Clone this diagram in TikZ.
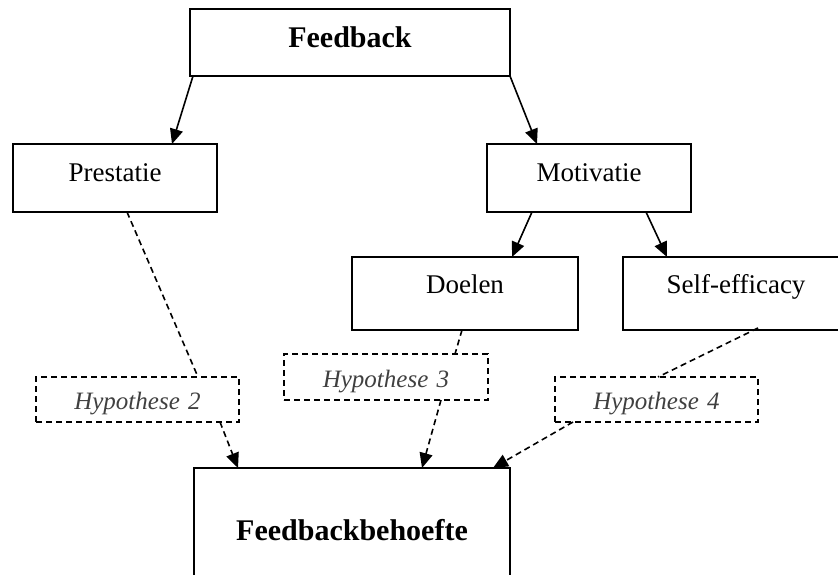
\documentclass[tikz,border=0pt]{standalone}
\usepackage{fontspec}
\setmainfont{Liberation Serif}
\usetikzlibrary{arrows.meta}
\definecolor{hypgray}{HTML}{404040}
\tikzset{
  box/.style={draw, line width=1.8pt, inner sep=0pt, outer sep=0pt, anchor=north west, align=center, font=\fontsize{27}{32}\selectfont},
  bigbox/.style={box, font=\fontsize{30}{36}\selectfont\bfseries},
  hypbox/.style={box, line width=1.6pt, dash pattern=on 6pt off 4pt, text=hypgray, font=\fontsize{25}{30}\selectfont\itshape},
  arr/.style={line width=1.6pt, -{Triangle[length=15pt,width=13pt]}},
  darr/.style={arr, dash pattern=on 6pt off 4pt},
  dline/.style={line width=1.6pt, dash pattern=on 6pt off 4pt}
}
\begin{document}
\begin{tikzpicture}[x=1pt,y=-1pt]
\useasboundingbox (0,0) rectangle (838,575);
\clip (0,0) rectangle (838,575);
\node[bigbox, text width=320pt, text height=39pt, text depth=28pt] (fb) at (190,9) {Feedback};
\node[box, text width=204pt, text height=37pt, text depth=31pt] (pr) at (13,144) {Prestatie};
\node[box, text width=204pt, text height=37pt, text depth=31pt] (mo) at (487,144) {Motivatie};
\node[box, text width=226pt, text height=36pt, text depth=37pt] (do) at (352,257) {Doelen};
\node[box, text width=226pt, text height=36pt, text depth=37pt] (se) at (623,257) {Self-efficacy};
\node[hypbox, text width=203pt, text height=32pt, text depth=13pt] (h2) at (36,377) {Hypothese 2};
\node[hypbox, text width=204pt, text height=33pt, text depth=13pt] (h3) at (284,354) {Hypothese 3};
\node[hypbox, text width=203pt, text height=32pt, text depth=13pt] (h4) at (555,377) {Hypothese 4};
\node[bigbox, text width=316pt, text height=72pt, text depth=60pt] (fbb) at (194,468) {Feedbackbehoefte};

\draw[arr] ([xshift=3pt]fb.south west) -- ([xshift=159pt]pr.north west);
\draw[arr] (fb.south east) -- ([xshift=50pt]mo.north west);
\draw[arr] ([xshift=45pt]mo.south west) -- ([xshift=160pt]do.north west);
\draw[arr] ([xshift=159pt]mo.south west) -- ([xshift=44pt]se.north west);

\draw[dline] ([xshift=114pt]pr.south west) -- ([xshift=162pt]h2.north west);
\draw[darr] ([xshift=184pt]h2.south west) -- ([xshift=44pt]fbb.north west);
\draw[dline] ([xshift=110pt]do.south west) -- ([xshift=171pt]h3.north west);
\draw[darr] ([xshift=157pt]h3.south west) -- ([xshift=228pt]fbb.north west);
\draw[dline] ([xshift=135pt,yshift=2pt]se.south west) -- ([xshift=103pt]h4.north west);
\draw[darr] ([xshift=18pt]h4.south west) -- ([xshift=299pt]fbb.north west);
\end{tikzpicture}
\end{document}
